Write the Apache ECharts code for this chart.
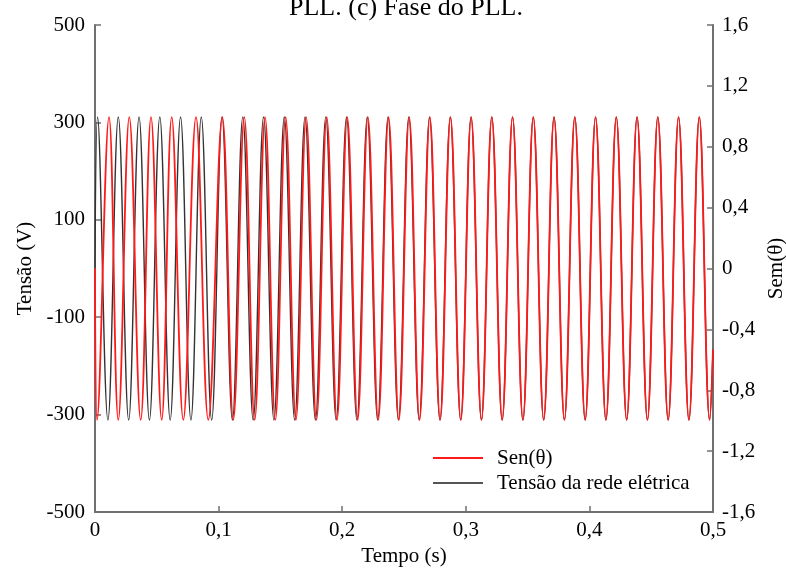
<!DOCTYPE html>
<html>
<head>
<meta charset="utf-8">
<script src="https://cdn.jsdelivr.net/npm/echarts@6/dist/echarts.min.js"></script>
<style>
html,body{margin:0;padding:0;background:#fff;}
#chart{width:786px;height:572px;}
</style>
</head>
<body>
<div id="chart"></div>
<script>
// Time (s) of the extrema of the grid voltage
const timeBlack = [0, 0.00206, 0.01045, 0.01885, 0.02724, 0.03564, 0.04403, 0.05243, 0.06082, 0.06922, 0.07761,
  0.08600, 0.09440, 0.10279, 0.11118, 0.11958, 0.12797, 0.13637, 0.14476, 0.15316, 0.16155,
  0.16994, 0.17834, 0.18673, 0.19512, 0.20352, 0.21191, 0.22031, 0.22870, 0.23710, 0.24549,
  0.25388, 0.26228, 0.27067, 0.27906, 0.28746, 0.29585, 0.30425, 0.31264, 0.32104, 0.32943,
  0.33783, 0.34622, 0.35461, 0.36300, 0.37140, 0.37979, 0.38819, 0.39658, 0.40498, 0.41337,
  0.42176, 0.43016, 0.43855, 0.44694, 0.45534, 0.46373, 0.47213, 0.48052, 0.48892, 0.49731, 0.5];
// Grid voltage (V) at those times
const voltBlack = [0, 311, -311, 311, -311, 311, -311, 311, -311, 311, -311,
  311, -311, 311, -311, 311, -311, 311, -311, 311, -311,
  311, -311, 311, -311, 311, -311, 311, -311, 311, -311,
  311, -311, 311, -311, 311, -311, 311, -311, 311, -311,
  311, -311, 311, -311, 311, -311, 311, -311, 311, -311,
  311, -311, 311, -311, 311, -311, 311, -311, 311, -311, -167];
// Time (s) of the extrema of Sen(theta) from the PLL
const timeRed = [0, 0.00162, 0.01133, 0.01885, 0.02775, 0.03697, 0.04531, 0.05397, 0.06206, 0.07144, 0.08172,
  0.09167, 0.10299, 0.11189, 0.12079, 0.12919, 0.13758, 0.14589, 0.15421, 0.16252, 0.17083,
  0.17915, 0.18746, 0.19577, 0.20409, 0.21244, 0.22079, 0.22915, 0.23750, 0.24585, 0.25421,
  0.26256, 0.27091, 0.27927, 0.28762, 0.29597, 0.30433, 0.31268, 0.32104, 0.32943, 0.33783,
  0.34622, 0.35461, 0.36300, 0.37140, 0.37979, 0.38819, 0.39658, 0.40498, 0.41337, 0.42176,
  0.43016, 0.43855, 0.44694, 0.45534, 0.46373, 0.47213, 0.48052, 0.48892, 0.49731, 0.5];
const sinRed = [0, -0.995, 0.995, -0.995, 0.995, -0.995, 0.995, -0.995, 0.995, -0.995, 0.995,
  -0.995, 0.995, -0.995, 0.995, -0.995, 0.995, -0.995, 0.995, -0.995, 0.995,
  -0.995, 0.995, -0.995, 0.995, -0.995, 0.995, -0.995, 0.995, -0.995, 0.995,
  -0.995, 0.995, -0.995, 0.995, -0.995, 0.995, -0.995, 0.995, -0.995, 0.995,
  -0.995, 0.995, -0.995, 0.995, -0.995, 0.995, -0.995, 0.995, -0.995, 0.995,
  -0.995, 0.995, -0.995, 0.995, -0.995, 0.995, -0.995, 0.995, -0.995, -0.534];

const seriesNames = ['Sen(\u03b8)', 'Tens\u00e3o da rede el\u00e9trica'];
const xTicks = [0, 0.1, 0.2, 0.3, 0.4, 0.5];
const leftTicks = [-500, -300, -100, 100, 300, 500];
const rightTicks = [-1.6, -1.2, -0.8, -0.4, 0, 0.4, 0.8, 1.2, 1.6];

const FONT = 'Liberation Serif, Times New Roman, serif';
const AX = '#707070';

function pairs(ts, vs) { return ts.map((t, i) => [t, vs[i]]); }
function comma(v, d) {
  if (Math.abs(v) < 1e-9) return '0';
  return v.toFixed(d).replace('.', ',');
}

const chart = echarts.init(document.getElementById('chart'), null, {renderer: 'canvas'});
const axisCommon = {
  axisLine: {show: true, onZero: false, lineStyle: {color: AX, width: 2}},
  axisTick: {show: true, inside: true, length: 6, lineStyle: {color: AX, width: 1.5}},
  splitLine: {show: false},
  nameTextStyle: {fontFamily: FONT, fontSize: 21, color: '#000'},
};
chart.setOption({
  animation: false,
  backgroundColor: '#fff',
  grid: {left: 95, right: 73, top: 25, bottom: 60, containLabel: false, outerBoundsMode: 'none'},
  graphic: [{
    type: 'text', left: 289, top: -5,
    style: {text: 'PLL. (c) Fase do PLL.', font: '26px ' + FONT, fill: '#000'}
  }],
  legend: {
    data: seriesNames, orient: 'vertical', left: 433, top: 447, padding: 0,
    icon: 'rect', itemWidth: 50, itemHeight: 2, itemGap: 3,
    textStyle: {fontFamily: FONT, fontSize: 21, color: '#000', lineHeight: 22, padding: [0, 0, 0, 9]}
  },
  xAxis: Object.assign({}, axisCommon, {
    type: 'value', min: 0, max: 0.5, interval: 0.1,
    name: 'Tempo (s)', nameLocation: 'middle', nameGap: 33,
    axisLabel: {fontFamily: FONT, fontSize: 21, color: '#000', margin: 8,
      formatter: v => comma(v, 1)},
  }),
  yAxis: [
    Object.assign({}, axisCommon, {
      type: 'value', min: -500, max: 500, interval: 200, position: 'left',
      name: 'Tens\u00e3o (V)', nameLocation: 'middle', nameGap: 55, nameRotate: 90,
      axisLabel: {fontFamily: FONT, fontSize: 21, color: '#000', margin: 10}
    }),
    Object.assign({}, axisCommon, {
      type: 'value', min: -1.6, max: 1.6, interval: 0.4, position: 'right',
      name: 'Sem(\u03b8)', nameLocation: 'middle', nameGap: 39, nameRotate: 90,
      axisLabel: {fontFamily: FONT, fontSize: 21, color: '#000', margin: 9,
        formatter: v => comma(v, 1)}
    })
  ],
  series: [
    {
      name: seriesNames[1], type: 'line', yAxisIndex: 0,
      data: pairs(timeBlack, voltBlack), smooth: 0.4, symbol: 'none', showSymbol: false,
      lineStyle: {color: '#333333', width: 1.4}, itemStyle: {color: '#555555'}, z: 2
    },
    {
      name: seriesNames[0], type: 'line', yAxisIndex: 1,
      data: pairs(timeRed, sinRed), smooth: 0.4, symbol: 'none', showSymbol: false,
      lineStyle: {color: '#ff1a1a', width: 1.8}, itemStyle: {color: '#ff1a1a'}, z: 3
    }
  ]
});
</script>
</body>
</html>
